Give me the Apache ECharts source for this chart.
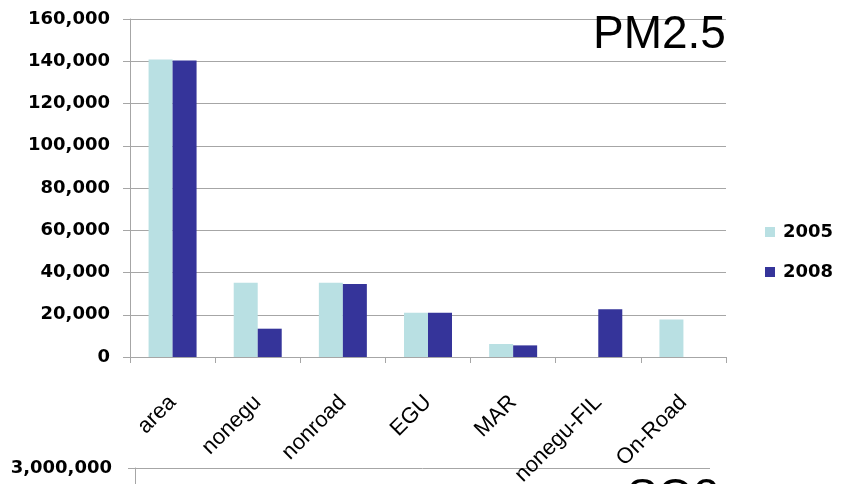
<!DOCTYPE html>
<html>
<head>
<meta charset="utf-8">
<script src="https://cdn.jsdelivr.net/npm/echarts@6/dist/echarts.min.js"></script>
<style>
html,body{margin:0;padding:0;background:#fff;}
#main{width:855px;height:484px;}
</style>
</head>
<body>
<div id="main"></div>
<script>
// Data
var categories = ['area', 'nonegu', 'nonroad', 'EGU', 'MAR', 'nonegu-FIL', 'On-Road'];
var seriesNames = ['2005', '2008'];
var values2005 = [140800, 35200, 35200, 21000, 6150, null, 17700];
var values2008 = [140300, 13400, 34600, 21000, 5500, 22600, null];
var yTicksTop = [0, 20000, 40000, 60000, 80000, 100000, 120000, 140000, 160000];
var yTicksBottom = [0, 1000000, 2000000, 3000000];
var titleTop = 'PM2.5';
var titleBottom = 'SO2';

var gridColor = '#A6A6A6';
var c2005 = '#B9E0E3';
var c2008 = '#35349A';
var labelFont = 'DejaVu Sans';

function fmt(v) { return v.toLocaleString('en-US'); }

var chart = echarts.init(document.getElementById('main'), null, {renderer: 'canvas'});
chart.setOption({
  animation: false,
  backgroundColor: '#ffffff',
  title: [
    {text: titleTop, left: 593, top: 12, padding: 0,
     textStyle: {fontFamily: 'Liberation Sans', fontSize: 46, fontWeight: 'normal', color: '#000'}},
    {text: titleBottom, left: 627, top: 475, padding: 0,
     textStyle: {fontFamily: 'Liberation Sans', fontSize: 46, fontWeight: 'normal', color: '#000'}}
  ],
  legend: {
    data: seriesNames,
    orient: 'vertical',
    left: 765,
    top: 222,
    padding: 0,
    icon: 'rect',
    itemWidth: 10,
    itemHeight: 10,
    itemGap: 20,
    textStyle: {fontFamily: labelFont, fontSize: 18, fontWeight: 'bold', color: '#000', lineHeight: 20, padding: [0, 0, 0, 3]}
  },
  grid: [
    {left: 130, top: 19, width: 596, height: 338, containLabel: false, outerBoundsMode: 'none'},
    {left: 135, top: 468, width: 575, height: 300, containLabel: false, outerBoundsMode: 'none'}
  ],
  xAxis: [
    {
      type: 'category', gridIndex: 0, data: categories,
      axisLine: {show: true, lineStyle: {color: gridColor, width: 1}},
      axisTick: {show: true, length: 6, lineStyle: {color: gridColor}},
      axisLabel: {rotate: 45, margin: 42, fontFamily: 'Liberation Sans', fontSize: 22, color: '#000', interval: 0, hideOverlap: false},
      splitLine: {show: false}
    },
    {
      type: 'category', gridIndex: 1, data: categories,
      axisLine: {show: true, lineStyle: {color: gridColor}},
      axisTick: {show: true, length: 6, lineStyle: {color: gridColor}},
      axisLabel: {show: false}
    }
  ],
  yAxis: [
    {
      type: 'value', gridIndex: 0, min: yTicksTop[0], max: yTicksTop[yTicksTop.length - 1],
      interval: yTicksTop[1] - yTicksTop[0],
      axisLine: {show: true, lineStyle: {color: gridColor, width: 1}},
      axisTick: {show: true, length: 7, lineStyle: {color: gridColor}},
      axisLabel: {margin: 20, fontFamily: labelFont, fontSize: 18, fontWeight: 'bold', color: '#000', formatter: fmt},
      splitLine: {show: true, lineStyle: {color: gridColor, width: 1}}
    },
    {
      type: 'value', gridIndex: 1, min: yTicksBottom[0], max: yTicksBottom[yTicksBottom.length - 1],
      interval: yTicksBottom[1] - yTicksBottom[0],
      axisLine: {show: true, lineStyle: {color: gridColor, width: 1}},
      axisTick: {show: true, length: 7, lineStyle: {color: gridColor}},
      axisLabel: {margin: 23, showMaxLabel: true, fontFamily: labelFont, fontSize: 18, fontWeight: 'bold', color: '#000', formatter: fmt},
      splitLine: {show: true, lineStyle: {color: gridColor, width: 1}}
    }
  ],
  series: [
    {name: seriesNames[0], type: 'bar', xAxisIndex: 0, yAxisIndex: 0, data: values2005,
     barWidth: 24, barGap: '0%', itemStyle: {color: c2005}},
    {name: seriesNames[1], type: 'bar', xAxisIndex: 0, yAxisIndex: 0, data: values2008,
     barWidth: 24, barGap: '0%', itemStyle: {color: c2008}}
  ]
});
</script>
</body>
</html>
